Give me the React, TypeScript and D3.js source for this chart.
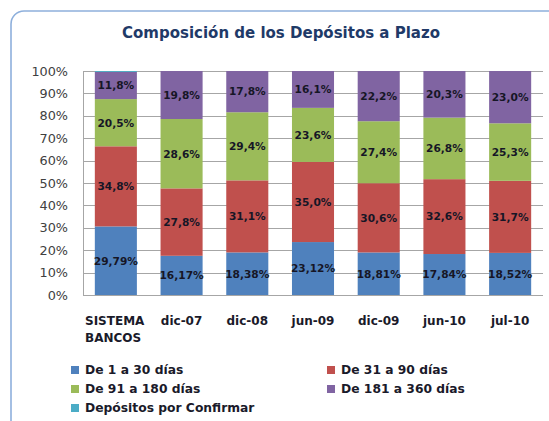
import React from "react";
import * as d3 from "d3";

const categories = ["SISTEMA\nBANCOS", "dic-07", "dic-08", "jun-09", "dic-09", "jun-10", "jul-10"];
const seriesNames = ["De 1 a 30 días", "De 31 a 90 días", "De 91 a 180 días", "De 181 a 360 días", "Depósitos por Confirmar"];
const s1a30 = [29.79, 16.17, 18.38, 23.12, 18.81, 17.84, 18.52];
const s31a90 = [34.8, 27.8, 31.1, 35.0, 30.6, 32.6, 31.7];
const s91a180 = [20.5, 28.6, 29.4, 23.6, 27.4, 26.8, 25.3];
const s181a360 = [11.8, 19.8, 17.8, 16.1, 22.2, 20.3, 23.0];
const sConfirmar = [0.4, 0, 0, 0, 0, 0, 0];
const yTicks = [0, 0.1, 0.2, 0.3, 0.4, 0.5, 0.6, 0.7, 0.8, 0.9, 1.0];
const colors = ["#4f81bd", "#c0504d", "#9bbb59", "#8064a2", "#4bacc6"];

const W = 549, H = 421;
const plot = { left: 83, right: 543, top: 71, bottom: 295 };

export default function App() {
  const series = [s1a30, s31a90, s91a180, s181a360, sConfirmar];
  const keys = ["k0", "k1", "k2", "k3", "k4"];
  const rows = categories.map((c, i) => {
    const total = series.reduce((a, s) => a + s[i], 0);
    const r: any = { cat: c };
    keys.forEach((k, j) => (r[k] = series[j][i] / total));
    return r;
  });
  const stacked = d3.stack().keys(keys)(rows);
  const x = d3.scaleBand().domain(categories).range([plot.left, plot.right]).paddingInner(0.36).paddingOuter(0.18);
  const y = d3.scaleLinear().domain([0, 1]).range([plot.bottom, plot.top]);
  const fmtPct = d3.format(".0%");
  const fmt2 = d3.format(".2f");
  const fmt1 = d3.format(".1f");
  const labelFor = (j: number, v: number) => (j === 0 ? fmt2(v) : fmt1(v)).replace(".", ",") + "%";
  const font = "'DejaVu Sans', Verdana, sans-serif";

  return (
    <svg width={W} height={H} style={{ position: "absolute", left: 0, top: 0 }} fontFamily={font}>
      <rect x={0} y={0} width={W} height={H} fill="#ffffff" />
      <rect x={11} y={11} width={580} height={460} rx={13} fill="#ffffff" stroke="#8eb0dc" strokeWidth={1.6} />
      <text x={281} y={38} textAnchor="middle" fontSize={15} fontWeight="bold" fill="#1f3a68">
        Composición de los Depósitos a Plazo
      </text>
      {yTicks.map((t) => (
        <g key={t}>
          <line x1={plot.left} x2={plot.right} y1={Math.round(y(t)) + 0.5} y2={Math.round(y(t)) + 0.5} stroke="#a6a6a6" strokeWidth={1} />
          <text x={68} y={y(t)} dy="0.36em" textAnchor="end" fontSize={12.8} fill="#404040">
            {fmtPct(t)}
          </text>
        </g>
      ))}
      <line x1={plot.left + 0.5} x2={plot.left + 0.5} y1={plot.top} y2={plot.bottom} stroke="#a6a6a6" />
      {stacked.map((layer, j) => (
        <g key={j}>
          {layer.map((d, i) => (
            <rect key={i} x={x(categories[i])} width={x.bandwidth()} y={y(d[1])} height={Math.max(0, y(d[0]) - y(d[1]))} fill={colors[j]} />
          ))}
        </g>
      ))}
      {stacked.map((layer, j) =>
        j < 4
          ? layer.map((d, i) => (
              <text key={`${j}-${i}`} x={x(categories[i])! + x.bandwidth() / 2} y={(y(d[0]) + y(d[1])) / 2} dy="0.36em" textAnchor="middle" fontSize={10.6} fontWeight="bold" fill="#161626">
                {labelFor(j, series[j][i])}
              </text>
            ))
          : null
      )}
      {categories.map((c, i) => (
        <text key={c} x={x(c)! + x.bandwidth() / 2} y={325} textAnchor="middle" fontSize={12} fontWeight="bold" fill="#1a1a2a">
          {c.split("\n").map((line, k) => (
            <tspan key={k} x={i === 0 ? 85 : x(c)! + x.bandwidth() / 2} textAnchor={i === 0 ? "start" : "middle"} dy={k === 0 ? 0 : 17}>
              {line}
            </tspan>
          ))}
        </text>
      ))}
      {seriesNames.map((n, j) => {
        const col = j % 2;
        const row = Math.floor(j / 2);
        const lx = col === 0 ? 71 : 327;
        const ly = 370 + row * 19;
        return (
          <g key={n}>
            <rect x={lx} y={ly - 4} width={8} height={8} fill={colors[j]} />
            <text x={lx + 14} y={ly} dy="0.36em" fontSize={12.3} fontWeight="bold" fill="#1a1a2a">
              {n}
            </text>
          </g>
        );
      })}
    </svg>
  );
}
